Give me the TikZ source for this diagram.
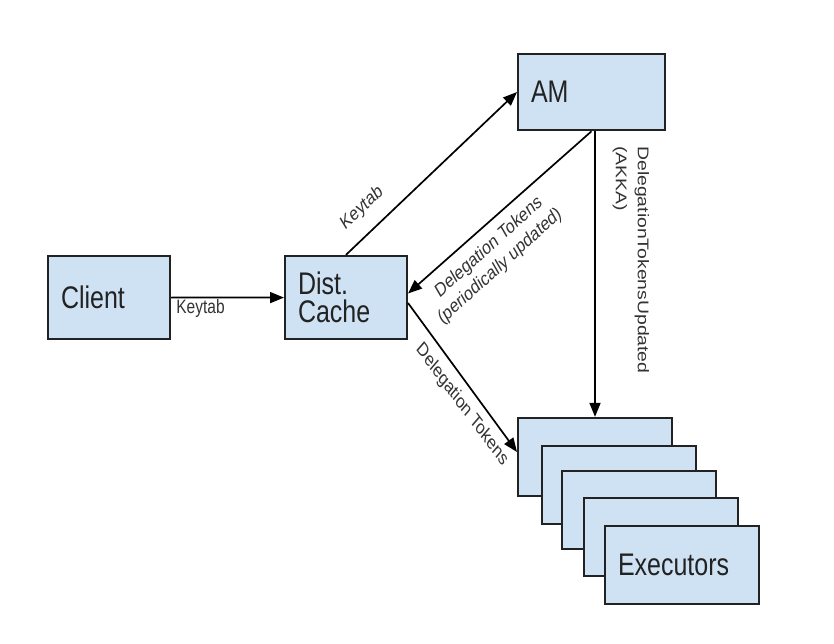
\documentclass[tikz,border=0pt]{standalone}
\usepackage{fontspec}
\setmainfont{Liberation Sans}
\usetikzlibrary{arrows.meta,calc}
\definecolor{boxfill}{HTML}{CFE2F3}
\definecolor{boxline}{HTML}{222222}
\definecolor{lblcol}{HTML}{333333}
\begin{document}
\begin{tikzpicture}[x=1pt,y=-1pt]
\begin{scope}[yscale=1.25, transform shape]
\useasboundingbox (0,0) rectangle (834,515.2);
\tikzset{
  box/.style={draw=boxline, fill=boxfill, line width=2pt, rectangle,
    inner xsep=13pt, inner ysep=0pt, align=left, text=boxline,
    font=\fontsize{25}{22.4}\selectfont},
  cbox/.style={box, minimum width=122pt, text width=96pt, minimum height=66.4pt},
  ambox/.style={box, minimum width=147pt, text width=121pt, minimum height=60.8pt},
  exbox/.style={box, minimum width=154pt, text width=128pt, minimum height=62.4pt},
  arr/.style={draw=black, line width=1.7pt, -{Triangle[length=14pt,width=11pt]}},
  lbl/.style={text=lblcol, font=\fontsize{15.5}{19}\selectfont, inner sep=0pt}
}
\node[cbox] (client) at (109,238) {Client};
\node[cbox] (dist) at (346,238) {Dist.\\Cache};
\node[ambox] (am) at (591.5,73.6) {AM};
\node[exbox] (e1) at (595,365.6) {};
\node[exbox] (e2) at (618.5,388) {};
\node[exbox] (e3) at (638.5,408) {};
\node[exbox] (e4) at (661,429.6) {};
\node[exbox] (e5) at (682,451.6) {Executors};

\draw[arr] (client) -- (dist);
\draw[arr] (dist.north) -- (am.west);
\draw[arr] (am.south) -- (dist.3);
\draw[arr] (dist.-4) -- (e1.177);
\draw[arr] (am.south -| e1.north) -- (e1.north);

\node[lbl] (k1) at (200.5,246.4) {Keytab};
\node[lbl, rotate=37.3] (k2) at (362,166.4) {Keytab};
\node[lbl, rotate=35.9, align=center] (dt1) at (494.5,205.6) {Delegation Tokens\\(periodically updated)};
\node[lbl, rotate=-47.2] (dt2) at (462,324) {Delegation Tokens};
\node[lbl, rotate=-90, anchor=west, align=left, font=\fontsize{15.5}{22}\selectfont] (dtu) at (631,116.8) {DelegationTokensUpdated\\(AKKA)};
\end{scope}
\end{tikzpicture}
\end{document}
